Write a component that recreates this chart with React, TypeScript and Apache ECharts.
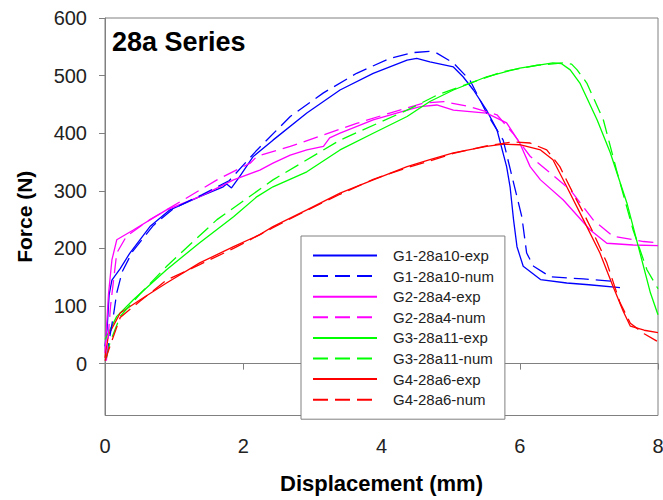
import React, { useEffect, useRef } from "react";
import * as echarts from "echarts";

const titleText = "28a Series";
const xName = "Displacement (mm)";
const yName = "Force (N)";
const yTicks = [0, 100, 200, 300, 400, 500, 600];
const xTicks = [0, 2, 4, 6, 8];

const seriesNames = [
  "G1-28a10-exp",
  "G1-28a10-num",
  "G2-28a4-exp",
  "G2-28a4-num",
  "G3-28a11-exp",
  "G3-28a11-num",
  "G4-28a6-exp",
  "G4-28a6-num",
];
const seriesColors = ["#0000FF", "#0000FF", "#FF00FF", "#FF00FF", "#00FF00", "#00FF00", "#FF0000", "#FF0000"];

const g1Exp = [
  [0, 30], [0.03, 60], [0.06, 120], [0.1, 145], [0.22, 165], [0.36, 192], [0.65, 238], [0.94, 267],
  [1.37, 290], [1.71, 307], [1.76, 312], [1.83, 305], [1.95, 325], [2.14, 359], [2.43, 388],
  [2.92, 435], [3.4, 475], [3.88, 504], [4.37, 527], [4.51, 530], [4.7, 524], [5.04, 515],
  [5.18, 498], [5.33, 475], [5.52, 440], [5.67, 406], [5.81, 342], [5.86, 307], [5.91, 250],
  [5.96, 203], [6.05, 169], [6.3, 146], [6.68, 140], [7.0, 137], [7.45, 132],
];
const g1Num = [
  [0.02, 10], [0.06, 40], [0.12, 82], [0.17, 123], [0.25, 160], [0.4, 195], [0.7, 240], [1.0, 270],
  [1.4, 293], [1.8, 318], [2.2, 371], [2.68, 429], [3.16, 470], [3.64, 504], [4.12, 530],
  [4.46, 540], [4.7, 542], [4.8, 539], [5.04, 522], [5.28, 492], [5.52, 435], [5.76, 388],
  [5.9, 319], [6.03, 255], [6.1, 192], [6.2, 169], [6.44, 151], [6.92, 147], [7.35, 143],
];
const g2Exp = [
  [0, 18], [0.05, 120], [0.1, 180], [0.17, 215], [0.41, 232], [0.89, 267], [1.37, 290],
  [1.86, 319], [2.24, 336], [2.43, 348], [2.68, 362], [2.92, 371], [3.16, 377], [3.25, 392],
  [3.4, 400], [3.88, 423], [4.37, 440], [4.56, 446], [4.8, 449], [5.04, 440], [5.52, 435],
  [5.81, 418], [6.0, 383], [6.15, 342], [6.3, 319], [6.63, 284], [7.02, 232], [7.26, 209],
  [7.64, 206], [8.0, 205],
];
const g2Num = [
  [0.02, 5], [0.08, 100], [0.17, 192], [0.31, 221], [0.65, 250], [1.13, 284], [1.62, 319],
  [2.1, 348], [2.2, 360], [2.68, 377], [3.16, 397], [3.64, 417], [4.12, 435], [4.6, 452],
  [4.9, 455], [5.28, 446], [5.67, 432], [5.9, 400], [6.15, 360], [6.44, 331], [6.73, 302],
  [7.06, 250], [7.35, 221], [7.79, 212], [8.0, 210],
];
const g3Exp = [
  [0, 42], [0.17, 82], [0.41, 111], [0.89, 163], [1.37, 210], [1.86, 255], [2.2, 290],
  [2.43, 307], [2.92, 333], [3.4, 371], [3.88, 400], [4.37, 429], [4.7, 455], [5.04, 475],
  [5.52, 498], [6.0, 513], [6.48, 522], [6.6, 521], [6.73, 510], [6.87, 487], [7.12, 423],
  [7.31, 366], [7.55, 279], [7.74, 192], [7.89, 123], [8.0, 85],
];
const g3Num = [
  [0.02, 10], [0.07, 36], [0.22, 82], [0.5, 120], [0.9, 170], [1.62, 250], [2.43, 319],
  [3.4, 388], [4.37, 440], [4.8, 466], [5.28, 487], [5.76, 507], [6.25, 518], [6.63, 522],
  [6.75, 520], [6.83, 510], [6.97, 487], [7.21, 423], [7.4, 336], [7.64, 232], [7.84, 163],
  [8.0, 130],
];
const g4Exp = [
  [0, 10], [0.05, 50], [0.22, 88], [0.51, 111], [0.89, 140], [1.37, 175], [1.86, 203],
  [2.24, 224], [2.43, 238], [2.92, 267], [3.4, 296], [3.88, 319], [4.37, 342], [4.7, 354],
  [5.04, 366], [5.52, 377], [5.76, 381], [6.0, 380], [6.1, 377], [6.3, 371], [6.48, 354],
  [6.68, 307], [6.92, 250], [7.16, 192], [7.35, 134], [7.5, 90], [7.6, 65], [7.8, 58], [8.0, 54],
];
const g4Num = [
  [0, 5], [0.1, 40], [0.22, 80], [0.5, 108], [0.89, 145], [1.37, 172], [1.86, 200],
  [2.43, 236], [2.92, 266], [3.4, 294], [3.88, 320], [4.37, 340], [4.7, 352], [5.04, 365],
  [5.52, 378], [5.9, 385], [6.15, 383], [6.39, 371], [6.58, 342], [6.77, 296], [6.92, 262],
  [7.06, 228], [7.26, 175], [7.45, 106], [7.6, 70], [7.8, 52], [8.0, 38],
];
const seriesData = [g1Exp, g1Num, g2Exp, g2Num, g3Exp, g3Num, g4Exp, g4Num];

const FONT = "'Liberation Sans', Arial, sans-serif";

export default function App() {
  const ref = useRef<HTMLDivElement>(null);
  useEffect(() => {
    if (!ref.current) return;
    const chart = echarts.init(ref.current, null, { renderer: "svg" });
    const axisGray = "#808080";
    chart.setOption({
      animation: false,
      backgroundColor: "#ffffff",
      title: {
        text: titleText,
        left: 112,
        top: 28,
        padding: 0,
        textStyle: { fontFamily: FONT, fontSize: 27, fontWeight: "bold", color: "#000" },
      },
      grid: {
        left: 105,
        top: 18,
        width: 553,
        height: 397.5,
        show: true,
        borderColor: axisGray,
        borderWidth: 1,
        outerBoundsMode: "none",
        containLabel: false,
      },
      legend: {
        orient: "vertical",
        left: 301,
        top: 236,
        padding: [12, 11, 12, 11],
        itemWidth: 64,
        itemHeight: 14,
        itemGap: 5.6,
        borderColor: axisGray,
        borderWidth: 1,
        backgroundColor: "#fff",
        data: seriesNames,
        itemStyle: { opacity: 0 },
        textStyle: {
          fontFamily: FONT,
          fontSize: 15,
          color: "#222",
          padding: [0, 0, 0, 11],
        },
      },
      xAxis: {
        type: "value",
        min: 0,
        max: 8,
        interval: 2,
        name: xName,
        nameLocation: "middle",
        nameGap: 57,
        nameTextStyle: { fontFamily: FONT, fontSize: 22, fontWeight: "bold", color: "#000" },
        axisLine: { show: true, lineStyle: { color: axisGray, width: 1 } },
        axisTick: { show: true, length: 6, lineStyle: { color: axisGray } },
        axisLabel: {
          fontFamily: FONT,
          fontSize: 20,
          color: "#222",
          margin: 20,
          customValues: xTicks,
        },
        splitLine: { show: false },
      },
      yAxis: {
        type: "value",
        min: -90,
        max: 600,
        name: yName,
        nameLocation: "middle",
        nameGap: 70,
        nameTextStyle: { fontFamily: FONT, fontSize: 21, fontWeight: "bold", color: "#000" },
        axisLine: { show: true, lineStyle: { color: axisGray, width: 1 } },
        axisTick: { show: true, length: 6, lineStyle: { color: axisGray }, customValues: yTicks },
        axisLabel: {
          fontFamily: FONT,
          fontSize: 20,
          color: "#222",
          margin: 18,
          customValues: yTicks,
        },
        splitLine: { show: false },
      },
      series: seriesNames.map((name, i) => ({
        name,
        type: "line",
        data: seriesData[i],
        symbol: "none",
        showSymbol: false,
        lineStyle: {
          color: seriesColors[i],
          width: 1.3,
          type: i % 2 === 1 ? [15, 7] : "solid",
        },
        itemStyle: { color: seriesColors[i] },
        z: i % 2 === 1 ? 3 : 2,
      })),
    });
    return () => chart.dispose();
  }, []);
  return (
    <div
      ref={ref}
      style={{ position: "absolute", left: 0, top: 0, width: 663, height: 500 }}
    />
  );
}
